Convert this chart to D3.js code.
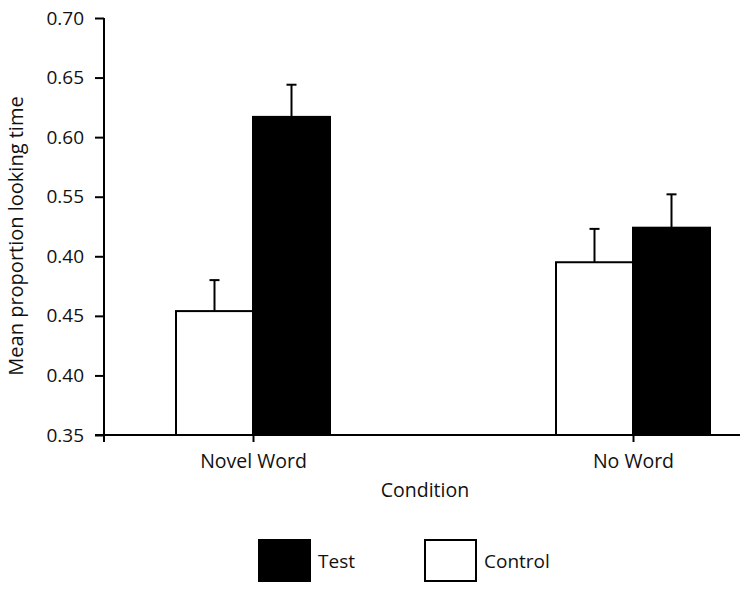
<!DOCTYPE html>
<html>
<head>
<meta charset="utf-8">
<script src="https://cdn.jsdelivr.net/npm/d3@7"></script>
<style>
  body { margin: 0; background: #fff; }
  text { font-family: "Open Sans", "Noto Sans", sans-serif; fill: #111; }
</style>
</head>
<body>
<script>
// chart size
var w = 745;
var h = 591;

// data
var conditions = ["Novel Word", "No Word"];
var groups = ["Control", "Test"];
var controlMeans = [0.454, 0.495];
var controlErr = [0.026, 0.028];
var testMeans = [0.617, 0.524];
var testErr = [0.027, 0.028];
var yTickValues = [0.35, 0.40, 0.45, 0.50, 0.55, 0.60, 0.65, 0.70];
var yTickLabels = ["0.35", "0.40", "0.45", "0.40", "0.55", "0.60", "0.65", "0.70"];
var legendItems = ["Test", "Control"];
var fills = { Control: "#fff", Test: "#000" };

var rows = [];
conditions.forEach(function(c, i) {
  rows.push({ cond: c, group: "Control", value: controlMeans[i], err: controlErr[i] });
  rows.push({ cond: c, group: "Test", value: testMeans[i], err: testErr[i] });
});

var svg = d3.select("body")
  .append("svg")
  .attr("width", w)
  .attr("height", h);

// scales
var yScale = d3.scaleLinear()
  .domain([0.35, 0.70])
  .range([435, 18]);

var xScale = d3.scalePoint()
  .domain(conditions)
  .range([253, 633]);

var barW = 77;
var groupScale = d3.scaleBand()
  .domain(groups)
  .range([-barW, barW]);

// bars
svg.selectAll("rect.bar")
  .data(rows)
  .enter()
  .append("rect")
  .attr("class", "bar")
  .attr("x", function(d) { return xScale(d.cond) + groupScale(d.group); })
  .attr("y", function(d) { return yScale(d.value); })
  .attr("width", groupScale.bandwidth())
  .attr("height", function(d) { return yScale(0.35) - yScale(d.value); })
  .attr("fill", function(d) { return fills[d.group]; })
  .attr("stroke", "#000")
  .attr("stroke-width", 2);

// error bars
var errs = svg.selectAll("g.err")
  .data(rows)
  .enter()
  .append("g")
  .attr("class", "err")
  .attr("stroke", "#000")
  .attr("stroke-width", 2);

errs.append("line")
  .attr("x1", function(d) { return xScale(d.cond) + groupScale(d.group) + groupScale.bandwidth() / 2; })
  .attr("x2", function(d) { return xScale(d.cond) + groupScale(d.group) + groupScale.bandwidth() / 2; })
  .attr("y1", function(d) { return yScale(d.value); })
  .attr("y2", function(d) { return yScale(d.value + d.err); });

errs.append("line")
  .attr("x1", function(d) { return xScale(d.cond) + groupScale(d.group) + groupScale.bandwidth() / 2 - 5; })
  .attr("x2", function(d) { return xScale(d.cond) + groupScale(d.group) + groupScale.bandwidth() / 2 + 5; })
  .attr("y1", function(d) { return yScale(d.value + d.err); })
  .attr("y2", function(d) { return yScale(d.value + d.err); });

// y axis
var yAxis = d3.axisLeft(yScale)
  .tickValues(yTickValues)
  .tickFormat(function(d, i) { return yTickLabels[i]; })
  .tickSize(9)
  .tickSizeOuter(0)
  .tickPadding(11);

var gy = svg.append("g")
  .attr("transform", "translate(104,0)")
  .call(yAxis);
gy.select(".domain").remove();
gy.selectAll("line").attr("stroke", "#000").attr("stroke-width", 2);
gy.selectAll("text")
  .attr("font-size", "19px")
  .attr("font-family", "'Open Sans', sans-serif")
  .attr("fill", "#111");

svg.append("line")
  .attr("x1", 104).attr("x2", 104)
  .attr("y1", yScale(0.70)).attr("y2", yScale(0.35) + 7)
  .attr("stroke", "#000").attr("stroke-width", 2);

// x axis
svg.append("line")
  .attr("x1", 95).attr("x2", 740)
  .attr("y1", yScale(0.35)).attr("y2", yScale(0.35))
  .attr("stroke", "#000").attr("stroke-width", 2);

var xAxis = d3.axisBottom(xScale)
  .tickSize(7)
  .tickSizeOuter(0)
  .tickPadding(12);

var gx = svg.append("g")
  .attr("transform", "translate(0," + yScale(0.35) + ")")
  .call(xAxis);
gx.select(".domain").remove();
gx.selectAll("line").attr("stroke", "#000").attr("stroke-width", 2);
gx.selectAll("text")
  .attr("font-size", "19.5px")
  .attr("font-family", "'Open Sans', sans-serif")
  .attr("fill", "#111");

// axis titles
svg.append("text")
  .attr("x", 425)
  .attr("y", 497)
  .attr("text-anchor", "middle")
  .attr("font-size", "19.5px")
  .text("Condition");

svg.append("text")
  .attr("transform", "translate(23,236) rotate(-90)")
  .attr("text-anchor", "middle")
  .attr("font-size", "20px")
  .text("Mean proportion looking time");

// legend
var legend = svg.selectAll("g.legend")
  .data(legendItems)
  .enter()
  .append("g")
  .attr("class", "legend")
  .attr("transform", function(d, i) { return "translate(" + (259 + i * 166) + ",540)"; });

legend.append("rect")
  .attr("width", 51)
  .attr("height", 41)
  .attr("fill", function(d) { return fills[d]; })
  .attr("stroke", "#000")
  .attr("stroke-width", 2);

legend.append("text")
  .attr("x", 59)
  .attr("y", 28)
  .attr("font-size", "19px")
  .text(function(d) { return d; });
</script>
</body>
</html>
